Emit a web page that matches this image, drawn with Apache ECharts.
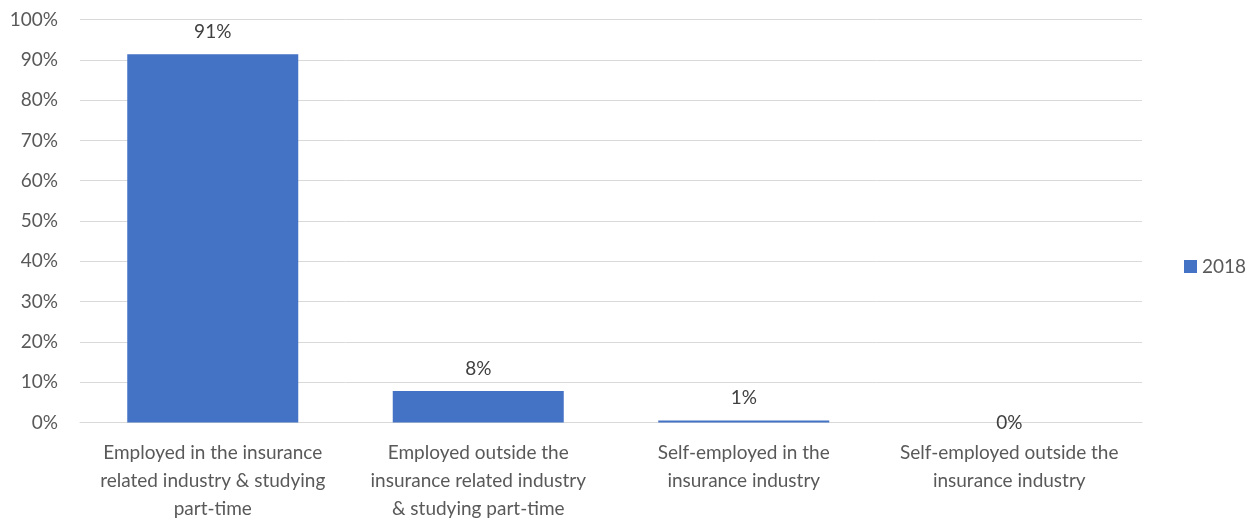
<!DOCTYPE html>
<html><head><meta charset="utf-8">
<script src="https://cdn.jsdelivr.net/npm/echarts@6/dist/echarts.min.js"></script>
<style>html,body{margin:0;padding:0;background:#fff}#c{width:1256px;height:519px}</style>
</head><body><div id="c"></div>
<script>
const categories = [
  "Employed in the insurance\nrelated industry & studying\npart-time",
  "Employed outside the\ninsurance related industry\n& studying part-time",
  "Self-employed in the\ninsurance industry",
  "Self-employed outside the\ninsurance industry"
];
const values2018 = [91.4, 7.8, 0.5, 0];
const yTicks = [0, 10, 20, 30, 40, 50, 60, 70, 80, 90, 100];
const seriesName = "2018";

const font = "Lato, 'Open Sans', sans-serif";
const chart = echarts.init(document.getElementById('c'));
chart.setOption({
  animation: false,
  textStyle: {fontFamily: font},
  grid: {left: 80, right: 114, top: 19.5, bottom: 96.5, containLabel: false, outerBoundsMode: 'none'},
  legend: {
    data: [seriesName], orient: 'vertical', left: 1179, top: 252,
    itemWidth: 13, itemHeight: 13, itemGap: 6,
    textStyle: {color: '#595959', fontSize: 19, fontFamily: font},
    icon: 'rect'
  },
  xAxis: {
    type: 'category', data: categories,
    axisLine: {lineStyle: {color: '#d9d9d9'}}, axisTick: {show: false},
    axisLabel: {color: '#595959', fontSize: 19, lineHeight: 28, margin: 16, interval: 0, fontFamily: font}
  },
  yAxis: {
    type: 'value', min: yTicks[0], max: yTicks[yTicks.length - 1], interval: 10,
    axisLine: {show: false}, axisTick: {show: false},
    splitLine: {lineStyle: {color: '#d9d9d9', width: 1}},
    axisLabel: {color: '#595959', fontSize: 19, margin: 22, formatter: v => v + '%', fontFamily: font}
  },
  series: [{
    name: seriesName, type: 'bar', barWidth: 171,
    itemStyle: {color: '#4472c4'},
    data: values2018.map(v => v === 0 ? {value: v, label: {position: 'inside'}} : v),
    label: {
      show: true, position: 'top', distance: 13, color: '#404040', fontSize: 19, fontFamily: font,
      formatter: p => Math.round(p.value) + '%'
    }
  }]
});
</script></body></html>
